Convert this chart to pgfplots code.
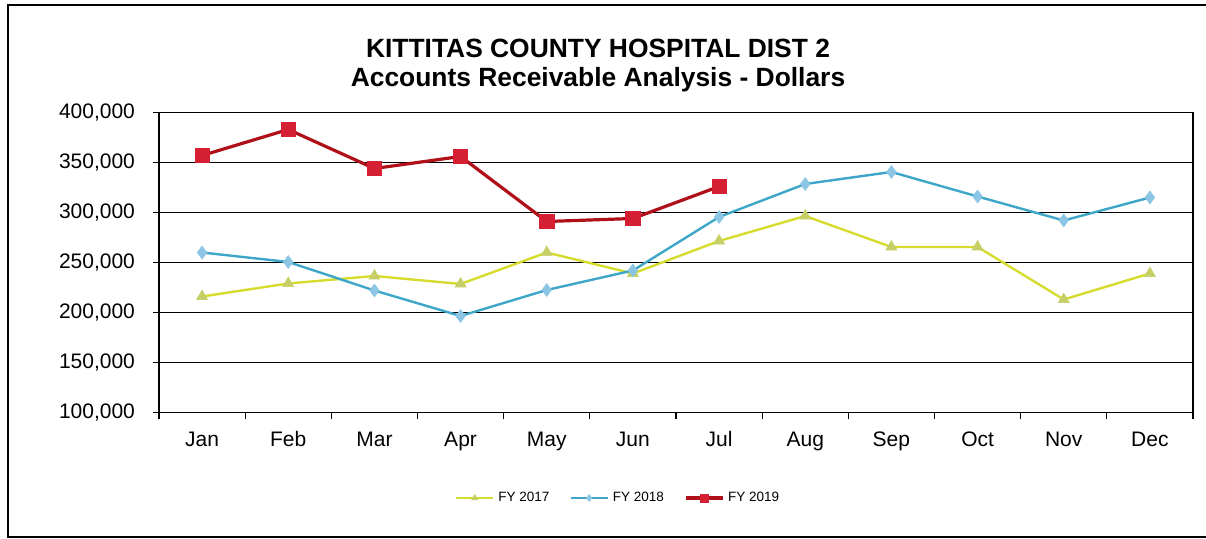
\documentclass[border=0pt]{standalone}
\usepackage{fontspec}
\setmainfont{Liberation Sans}
\usepackage{pgfplots}
\pgfplotsset{compat=1.18}
\definecolor{y17line}{HTML}{D6DC2E}
\definecolor{y17mark}{HTML}{C6CE66}
\definecolor{b18line}{HTML}{3EA6C8}
\definecolor{b18mark}{HTML}{8CC6E4}
\definecolor{r19line}{HTML}{B01018}
\definecolor{r19mark}{HTML}{D42032}
\begin{document}
\begin{tikzpicture}
\useasboundingbox (0,0) rectangle (603pt,269.5pt);
\draw[line width=0.7pt] (620pt,267pt) -- (4pt,267pt) -- (4pt,1pt) -- (620pt,1pt);
\node[font=\fontsize{13.2pt}{14.5pt}\selectfont\bfseries, align=center] at (299pt,236.5pt)
  {KITTITAS COUNTY HOSPITAL DIST 2\\Accounts Receivable Analysis - Dollars};
\begin{axis}[
  at={(79.5pt,63.25pt)}, anchor=south west,
  scale only axis, width=517pt, height=150pt,
  xmin=-0.5, xmax=11.5, ymin=100000, ymax=400000,
  xtick={0,...,11},
  xticklabels={Jan,Feb,Mar,Apr,May,Jun,Jul,Aug,Sep,Oct,Nov,Dec},
  minor xtick={-0.5,0.5,...,11.5},
  ytick={100000,150000,...,400000},
  major x tick style={draw=none},
  tick align=outside,
  major tick length=3pt, minor tick length=3.5pt,
  xtick pos=bottom, ytick pos=left,
  ymajorgrids,
  grid style={black, line width=0.75pt},
  axis line style={black, line width=0.75pt},
  every tick/.style={black, line width=0.6pt},
  scaled y ticks=false,
  /pgf/number format/.cd, fixed, 1000 sep={,}, assume math mode=true,
  /pgfplots/.cd,
  tick label style={font=\fontsize{10.5pt}{12pt}\selectfont},
  xticklabel style={yshift=-3pt},
  yticklabel style={xshift=-5.5pt},
  legend style={at={(0.445,-0.285)}, anchor=center, draw=none, fill=none,
    font=\fontsize{6.75pt}{8pt}\selectfont, legend columns=3,
    /tikz/every even column/.append style={column sep=8pt}},
  legend cell align=left,
  legend image code/.code={%
    \draw[#1, mark repeat=2, mark phase=2, every mark/.append style={scale=0.55}] plot coordinates {(0pt,0pt) (9.25pt,0pt) (18.5pt,0pt)};},
]
\addplot[y17line, line width=1.2pt, mark=triangle*, mark size=3.2pt,
  mark options={fill=y17mark, draw=y17mark, line width=0.3pt}]
  coordinates {(0,216000) (1,229000) (2,236500) (3,228500) (4,260000) (5,239000)
  (6,271500) (7,296500) (8,265500) (9,265500) (10,213000) (11,239000)};
\addlegendentry{FY 2017}
\addplot[b18line, line width=1.2pt, mark=diamond*, mark size=3.2pt,
  mark options={fill=b18mark, draw=b18mark, line width=0.3pt}]
  coordinates {(0,260000) (1,250500) (2,222000) (3,196500) (4,222500) (5,242000)
  (6,295500) (7,328500) (8,340500) (9,316000) (10,292000) (11,315000)};
\addlegendentry{FY 2018}
\addplot[r19line, line width=1.6pt, mark=square*, mark size=3.6pt,
  mark options={fill=r19mark, draw=r19mark, line width=0.3pt}]
  coordinates {(0,357000) (1,383000) (2,344000) (3,356000) (4,291000) (5,294000)
  (6,326000)};
\addlegendentry{FY 2019}
\end{axis}
\end{tikzpicture}
\end{document}
